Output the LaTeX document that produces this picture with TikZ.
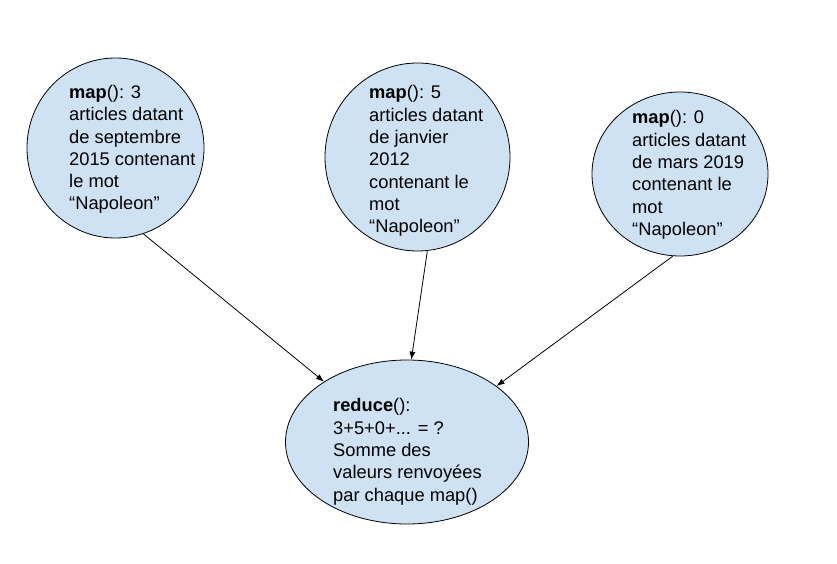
\documentclass[tikz,border=0pt]{standalone}
\usepackage{fontspec}
\setmainfont{Liberation Sans}
\usepackage{xcolor}
\usepackage{tikz}
\usetikzlibrary{arrows.meta,positioning,shapes.geometric}
\definecolor{bleu}{HTML}{CFE2F3}

\begin{document}
\begin{tikzpicture}[x=1pt, y=1pt,
  font=\fontsize{18.3}{22.3}\selectfont,
  bulle/.style={ellipse, draw=black, line width=0.8pt, fill=bleu, inner sep=0pt},
  texte/.style={anchor=north west, inner sep=0pt, align=left},
  fleche/.style={-{Latex[length=8pt,width=6pt]}, line width=0.8pt}]
  \useasboundingbox (0,0) rectangle (837,563);
  % les trois map() et le reduce()
  \node[bulle, minimum width=177pt, minimum height=180pt] (map1) at (115.5,415) {};
  \node[bulle, minimum width=185pt, minimum height=188pt] (map2) at (417.5,406) {};
  \node[bulle, minimum width=176pt, minimum height=164pt] (map3) at (680,389) {};
  \node[bulle, minimum width=243pt, minimum height=164pt] (reduce) at (407,121) {};
  \node[texte] (txt1) at (69,478)
    {\textbf{map}(): 3\\articles datant\\de septembre\\2015 contenant\\le mot\\“Napoleon”};
  \node[texte] (txt2) at (369,477.5)
    {\textbf{map}(): 5\\articles datant\\de janvier\\2012\\contenant le\\mot\\“Napoleon”};
  \node[texte] (txt3) at (632,452.5)
    {\textbf{map}(): 0\\articles datant\\de mars 2019\\contenant le\\mot\\“Napoleon”};
  \node[texte] (txt4) at (333,164.5)
    {\textbf{reduce}():\\3+5+0+... = ?\\Somme des\\valeurs renvoyées\\par chaque map()};
  \draw[fleche] (map1.-72.4) -- (reduce.144.9);
  \draw[fleche] (map2.-84.2) -- (reduce.87.3);
  \draw[fleche] (map3.-95.6) -- (reduce.32.5);
\end{tikzpicture}
\end{document}
